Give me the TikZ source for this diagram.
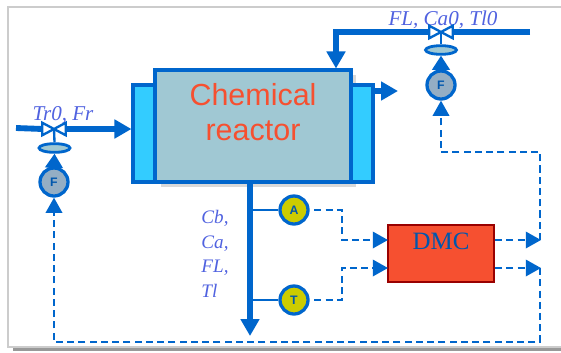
\documentclass[tikz,border=0pt]{standalone}
\usepackage{fontspec}
\setmainfont{Liberation Serif}
\setsansfont{Liberation Sans}
\definecolor{plantblue}{RGB}{0,102,204}
\definecolor{plantteal}{RGB}{160,200,211}
\definecolor{plantcyan}{RGB}{51,204,255}
\definecolor{plantred}{RGB}{246,80,48}
\definecolor{plantdark}{RGB}{153,0,0}
\definecolor{plantlabel}{RGB}{80,98,224}
\definecolor{plantgray}{RGB}{148,174,196}
\definecolor{plantyellow}{RGB}{204,204,0}
\usetikzlibrary{arrows.meta,shapes.geometric}
\tikzset{
  flowline/.style={plantblue, line width=5pt},
  flowtip/.style={-{Triangle[length=14.5pt,width=15.5pt]}},
  sigline/.style={plantblue, line width=2pt, dash pattern=on 6pt off 3.6pt},
  sigtip/.style={-{Triangle[length=13pt,width=14pt]}},
  jacket/.style={draw=plantblue, fill=plantcyan, line width=2.6pt, minimum width=0.66cm, minimum height=2.91cm, inner sep=0pt},
  sensor/.style={circle, draw=plantblue, line width=2.8pt, minimum size=0.84cm, inner sep=0pt, font=\sffamily\bfseries\fontsize{10.5}{12}\selectfont},
  actuator/.style={ellipse, draw=plantblue, fill=plantteal, line width=2.4pt, minimum width=0.93cm, minimum height=0.26cm, inner sep=0pt},
  valvebox/.style={minimum width=0.66cm, minimum height=0.36cm, inner sep=0pt},
  bowtie/.style={draw=plantblue, fill=white, line width=2pt},
  streamlabel/.style={font=\fontsize{18}{22}\selectfont\itshape, text=plantlabel, inner sep=0pt}
}
\begin{document}
\begin{tikzpicture}[x=0.03cm, y=-0.03cm]
  \useasboundingbox (0,0) rectangle (561,352);
  % Slide frame
  \fill[white] (0,0) rectangle (561,352);
  \draw[black!20, line width=1.2pt] (561,7) -- (8,7) -- (8,347) -- (561,347);
  \fill[black!40] (13,348) rectangle (561,351);
  % Shadow of the vessel
  \fill[black!15] (161,75) rectangle (356,187);
  % Vessel and jackets
  \node[jacket] (jacketL) at (144,133.5) {};
  \node[jacket] (jacketR) at (362,133.5) {};
  \node[draw=plantblue, fill=plantteal, line width=2.6pt, minimum width=5.88cm, minimum height=3.36cm, inner sep=0pt] (reactor) at (253,126) {};
  \node[font=\sffamily\fontsize{26}{30.5}\selectfont, text=plantred, align=center, inner sep=0pt] (reactorname) at (253,112) {Chemical\\reactor};
  % Stream labels
  \node[streamlabel] (labelL) at (63,115.5) {Tr0, Fr};
  \node[streamlabel] (labelR) at (443,20) {FL, Ca0, Tl0};
  \node[font=\fontsize{16.3}{20.9}\selectfont\itshape, text=plantlabel, align=left, inner sep=0pt] (labelO) at (215,254) {Cb,\\Ca,\\FL,\\Tl};
  % Instruments
  \node[valvebox] (valveL) at (54,129) {};
  \node[valvebox] (valveR) at (441,32) {};
  \node[actuator] (actL) at (54.5,148) {};
  \node[actuator] (actR) at (441,50) {};
  \node[sensor, fill=plantgray, text=plantblue!85!black] (sensorL) at (54,182) {F};
  \node[sensor, fill=plantgray, text=plantblue!85!black] (sensorR) at (441,85) {F};
  \node[sensor, fill=plantyellow, text=plantblue!85!black] (sensorA) at (294,210) {A};
  \node[sensor, fill=plantyellow, text=plantblue!85!black] (sensorT) at (294,300) {T};
  % Controller
  \node[draw=plantdark, fill=plantred, line width=2pt, minimum width=3.18cm, minimum height=1.71cm, inner sep=0pt] (dmc) at (441,253.5) {};
  \node[font=\fontsize{21.3}{25}\selectfont, text=plantblue!85!black, inner sep=0pt] (dmcname) at (441,241) {DMC};
  % Free ends of the streams
  \coordinate (feedL) at (16,128);
  \coordinate (feedR) at (530,32);
  \coordinate (elbowR) at (336,32);
  \coordinate (exitR) at (398,91);
  \coordinate (outletEnd) at (250,336);
  \coordinate (tapA) at (250,210);
  \coordinate (tapT) at (250,300);
  \coordinate (inA) at (388,240);
  \coordinate (inT) at (388,268);
  \coordinate (outA) at (495,240);
  \coordinate (outT) at (495,268);
  \coordinate (endA) at (541,240);
  \coordinate (endT) at (541,268);
  \coordinate (kneeA) at (342,240);
  \coordinate (kneeT) at (342,268);
  \coordinate (busA) at (540,240);
  \coordinate (busT) at (540,268);
  \coordinate (busTop) at (441,152);
  \coordinate (busLow) at (540,342);
  % Process streams
  \draw[flowline] (feedL) -- (valveL.west);
  \draw[flowline, flowtip] (valveL.east) -- (jacketL.west |- valveL.east);
  \draw[flowline] (feedR) -- (valveR.east);
  \draw[flowline, flowtip] (valveR.west) -- (elbowR) -- (elbowR |- reactor.north);
  \draw[flowline, flowtip] (jacketR.east |- exitR) -- (exitR);
  \draw[flowline, flowtip] (reactor.south -| outletEnd) -- (outletEnd);
  \draw[plantblue, line width=2pt] (tapA) -- (sensorA.west);
  \draw[plantblue, line width=2pt] (tapT) -- (sensorT.west);
  % Valves
  \foreach \v/\a in {valveL/actL, valveR/actR} {
    \draw[plantblue, line width=2pt] (\v.center) -- (\a.north);
    \draw[bowtie] ([xshift=-10pt]\v.north) -- ([xshift=10pt]\v.south) -- ([xshift=10pt]\v.north) -- ([xshift=-10pt]\v.south) -- cycle;
  }
  \draw[plantblue, line width=2pt, -{Triangle[length=12pt,width=15pt]}] (sensorL.north) -- (actL.south);
  \draw[plantblue, line width=2pt, -{Triangle[length=12pt,width=15pt]}] (sensorR.north) -- (actR.south);
  % Signals
  \draw[sigline, sigtip, shorten <=4pt] (sensorA.east) -| (kneeA) -- (inA);
  \draw[sigline, sigtip, shorten <=4pt] (sensorT.east) -| (kneeT) -- (inT);
  \draw[sigline, sigtip] (outA) -- (endA);
  \draw[sigline, sigtip] (outT) -- (endT);
  \draw[sigline, sigtip] (busA) |- (busTop) -- (sensorR.south);
  \draw[sigline, sigtip] (busT) -- (busLow) -| (sensorL.south);
\end{tikzpicture}
\end{document}
